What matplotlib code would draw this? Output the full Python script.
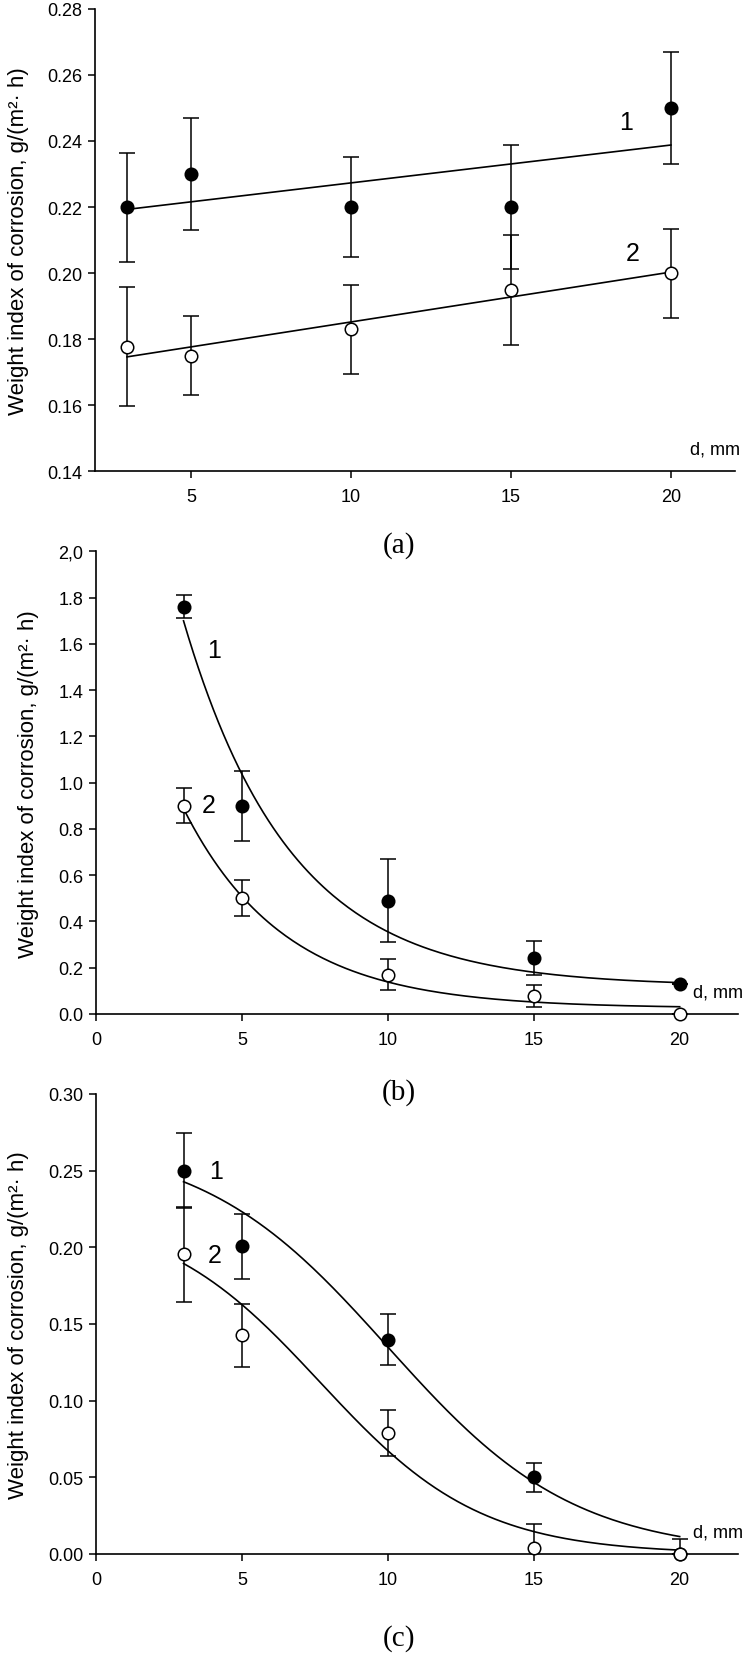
import matplotlib
matplotlib.use("Agg")
import matplotlib.pyplot as plt
import numpy as np

plt.rcParams['font.family'] = ['Liberation Sans', 'DejaVu Sans']

# thickness d, mm
d = [3, 5, 10, 15, 20]

# (a)
a_y1 = [0.220, 0.230, 0.220, 0.220, 0.250]
a_e1 = [0.0165, 0.0168, 0.015, 0.0188, 0.017]
a_y2 = [0.1777, 0.175, 0.183, 0.195, 0.200]
a_e2 = [0.018, 0.012, 0.0135, 0.0166, 0.0135]

# (b)
b_y1 = [1.761, 0.899, 0.490, 0.242, 0.131]
b_e1 = [0.05, 0.15, 0.178, 0.074, 0.0]
b_y2 = [0.900, 0.502, 0.170, 0.077, 0.0]
b_e2 = [0.075, 0.077, 0.068, 0.048, 0.0]

# (c)
c_y1 = [0.250, 0.2006, 0.1397, 0.0501, 0.0]
c_e1 = [0.0245, 0.021, 0.0167, 0.0095, 0.0099]
c_y2 = [0.1955, 0.1425, 0.0788, 0.0041, 0.0]
c_e2 = [0.031, 0.0208, 0.015, 0.0154, 0.0]

# fitted curve parameters
b_fit1 = (0.12, 1.58, 0.272)   # y0, A, k  -> y0 + A*exp(-k(x-3))
b_fit2 = (0.025, 0.863, 0.29)
c_fit1 = (0.27, 10.0, 3.2)     # a, x0, b  -> a/(1+exp((x-x0)/b))
c_fit2 = (0.224, 7.68, 2.75)

a_yticks = [0.14, 0.16, 0.18, 0.20, 0.22, 0.24, 0.26, 0.28]
a_ylabels = ['0.14', '0.16', '0.18', '0.20', '0.22', '0.24', '0.26', '0.28']
b_yticks = [0.0, 0.2, 0.4, 0.6, 0.8, 1.0, 1.2, 1.4, 1.6, 1.8, 2.0]
b_ylabels = ['0.0', '0.2', '0.4', '0.6', '0.8', '1.0', '1.2', '1.4', '1.6', '1.8', '2,0']
c_yticks = [0.0, 0.05, 0.10, 0.15, 0.20, 0.25, 0.30]
c_ylabels = ['0.00', '0.05', '0.10', '0.15', '0.20', '0.25', '0.30']

ylab = 'Weight index of corrosion, g/(m²· h)'

fig = plt.figure(figsize=(7.44, 16.56), dpi=100)
ax_a = fig.add_axes([0.1277, 0.7147, 0.860, 0.2794])
ax_b = fig.add_axes([0.129, 0.3871, 0.863, 0.2793])
ax_c = fig.add_axes([0.129, 0.0610, 0.863, 0.2778])


def style(ax, xlim, ylim, xticks, yticks, ylabels, labx):
    ax.set_xlim(*xlim)
    ax.set_ylim(*ylim)
    ax.spines['top'].set_visible(False)
    ax.spines['right'].set_visible(False)
    for s in ('left', 'bottom'):
        ax.spines[s].set_linewidth(1.2)
    ax.set_xticks(xticks)
    ax.set_yticks(yticks)
    ax.set_yticklabels(ylabels)
    ax.tick_params(axis='both', direction='out', length=5, width=1.1, labelsize=13)
    ax.tick_params(axis='x', pad=7)
    ax.tick_params(axis='y', pad=4)
    ax.set_ylabel(ylab, fontsize=16)
    ax.yaxis.label.set_verticalalignment('center')
    ax.yaxis.set_label_coords(labx, 0.5)
    ax.text(1.008, 0.03, 'd, mm', transform=ax.transAxes, ha='right', va='bottom',
            fontsize=13)


def draw(ax, y, e, filled):
    ax.errorbar(d, y, yerr=e, fmt='none', ecolor='black', elinewidth=1.1,
                capsize=6, capthick=1.1, zorder=2)
    ax.plot(d, y, 'o', ms=9, mec='black', mew=1.1,
            mfc='black' if filled else 'white', zorder=4, clip_on=False)


xs = np.linspace(3, 20, 200)

# (a)
draw(ax_a, a_y1, a_e1, True)
draw(ax_a, a_y2, a_e2, False)
for yy in (a_y1, a_y2):
    k, b0 = np.polyfit(d, yy, 1)
    ax_a.plot(xs, k * xs + b0, color='black', lw=1.2, zorder=3)
style(ax_a, (2, 22), (0.14, 0.28), [5, 10, 15, 20], a_yticks, a_ylabels, -0.119)
ax_a.text(18.6, 0.2458, '1', fontsize=18, ha='center', va='center')
ax_a.text(18.8, 0.2061, '2', fontsize=18, ha='center', va='center')
fig.text(0.536, 1 - 546 / 1656, '(a)', family='Liberation Serif', fontsize=21,
         ha='center', va='center')

# (b)
draw(ax_b, b_y1, b_e1, True)
draw(ax_b, b_y2, b_e2, False)
for y0, A, kk in (b_fit1, b_fit2):
    ax_b.plot(xs, y0 + A * np.exp(-kk * (xs - 3)), color='black', lw=1.2, zorder=3)
style(ax_b, (0, 22), (0, 2.0), [0, 5, 10, 15, 20], b_yticks, b_ylabels, -0.105)
ax_b.text(4.06, 1.575, '1', fontsize=18, ha='center', va='center')
ax_b.text(3.86, 0.904, '2', fontsize=18, ha='center', va='center')
fig.text(0.536, 1 - 1093 / 1656, '(b)', family='Liberation Serif', fontsize=21,
         ha='center', va='center')

# (c)
draw(ax_c, c_y1, c_e1, True)
draw(ax_c, c_y2, c_e2, False)
for aa, x0, bb in (c_fit1, c_fit2):
    ax_c.plot(xs, aa / (1 + np.exp((xs - x0) / bb)), color='black', lw=1.2, zorder=3)
style(ax_c, (0, 22), (0, 0.30), [0, 5, 10, 15, 20], c_yticks, c_ylabels, -0.12)
ax_c.text(4.11, 0.25, '1', fontsize=18, ha='center', va='center')
ax_c.text(4.06, 0.195, '2', fontsize=18, ha='center', va='center')
fig.text(0.536, 1 - 1639 / 1656, '(c)', family='Liberation Serif', fontsize=21,
         ha='center', va='center')

fig.savefig('out.png', dpi=100)
